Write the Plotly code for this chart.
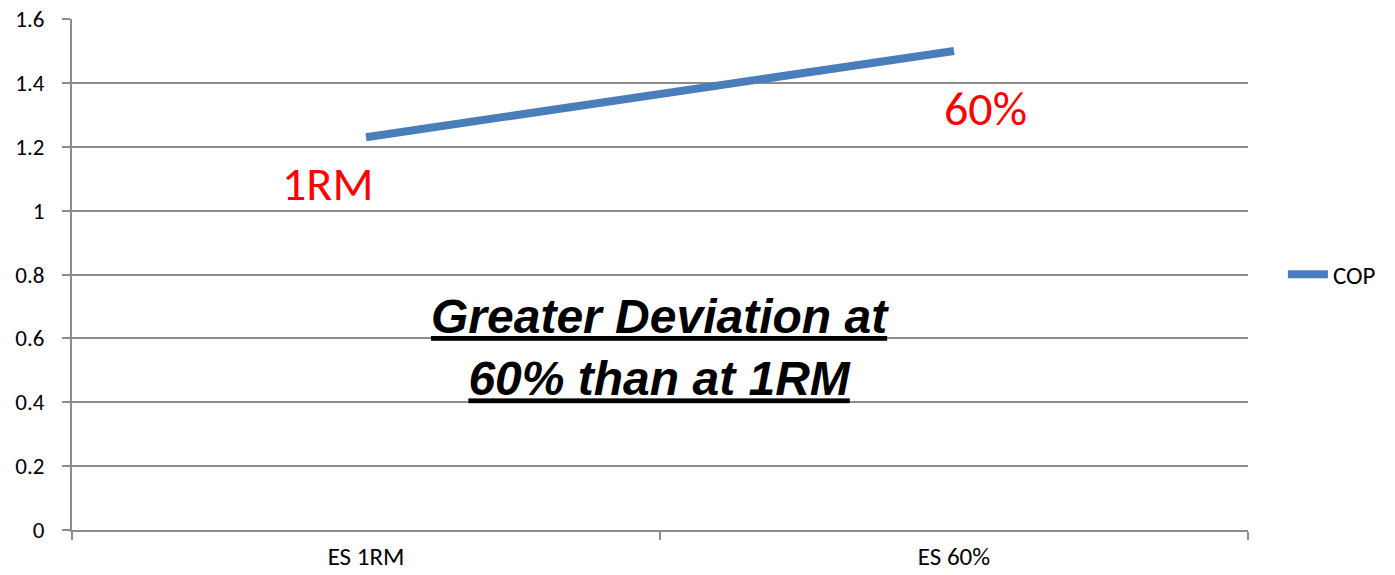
import plotly.graph_objects as go

categories = ["ES 1RM", "ES 60%"]
cop_values = [1.23, 1.50]
series_name = "COP"
y_ticks = [0, 0.2, 0.4, 0.6, 0.8, 1.0, 1.2, 1.4, 1.6]
y_tick_labels = ["0", "0.2", "0.4", "0.6", "0.8", "1", "1.2", "1.4", "1.6"]
point_labels = ["1RM", "60%"]
message_lines = ["Greater Deviation at", "60% than at 1RM"]

GRID = "#8c8c8c"
FONT = "Carlito, Calibri, Lato, sans-serif"

fig = go.Figure()
fig.add_trace(go.Scatter(
    x=categories, y=cop_values, mode="lines", name=series_name,
    line=dict(color="#4a7ebb", width=8),
))

# red point labels
fig.add_annotation(x=categories[0], y=cop_values[0], text=point_labels[0],
                   showarrow=False, xanchor="center", yanchor="middle",
                   xshift=-39, yshift=-46,
                   font=dict(family=FONT, size=48, color="#ff0000"))
fig.add_annotation(x=categories[1], y=cop_values[1], text=point_labels[1],
                   showarrow=False, xanchor="center", yanchor="middle",
                   xshift=31, yshift=-58,
                   font=dict(family=FONT, size=48, color="#ff0000"))

# central message
msg = "<br>".join("<span style='text-decoration:underline'><b><i>%s</i></b></span>" % s
                  for s in message_lines)
fig.add_annotation(x=0.5, y=0.57, xref="x domain", yref="y",
                   text=msg,
                   showarrow=False, align="center", xanchor="center", yanchor="middle",
                   font=dict(family="Liberation Sans, Arial, sans-serif", size=48, color="#000000"))

fig.update_layout(
    width=1395, height=575,
    margin=dict(l=72, r=147, t=19, b=45),
    paper_bgcolor="white", plot_bgcolor="white",
    font=dict(family=FONT, size=22, color="#000000"),
    showlegend=True,
    legend=dict(x=1.113, y=0.5, xanchor="right", yanchor="middle",
                font=dict(family=FONT, size=25, color="#000000"),
                itemwidth=40, bgcolor="rgba(0,0,0,0)", borderwidth=0),
    xaxis=dict(type="category", range=[-0.5, 1.5], showgrid=False, automargin=False,
               showline=True, linecolor=GRID, linewidth=2,
               tickfont=dict(family=FONT, size=25, color="#000000"),
               ticks="outside", tickson="boundaries", ticklen=8, tickcolor=GRID, tickwidth=2,
               ticklabelstandoff=3, zeroline=False),
    yaxis=dict(range=[0, 1.6], tickvals=y_ticks, ticktext=y_tick_labels, automargin=False,
               showgrid=True, gridcolor=GRID, gridwidth=2,
               showline=True, linecolor=GRID, linewidth=2,
               tickfont=dict(family=FONT, size=23, color="#000000"),
               ticks="outside", ticklen=8, tickcolor=GRID, tickwidth=2,
               ticklabelstandoff=13, zeroline=False),
)

fig.write_html("out.html")
